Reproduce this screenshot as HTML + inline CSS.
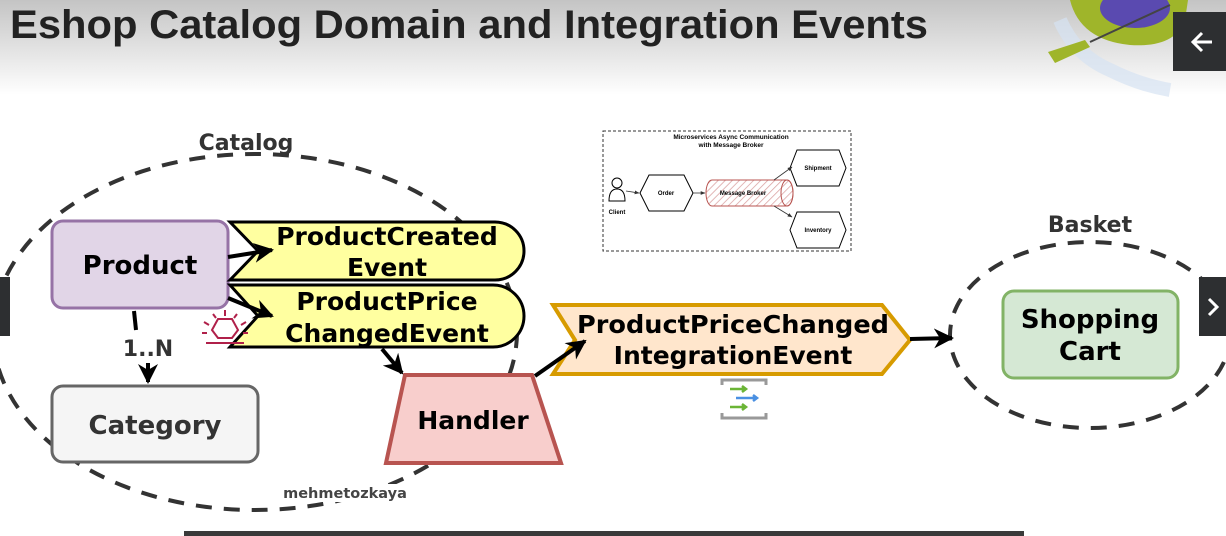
<!DOCTYPE html>
<html><head><meta charset="utf-8"><style>
html,body{margin:0;padding:0;width:1226px;height:536px;overflow:hidden;background:#fff}
svg{display:block}
.t{font-family:"DejaVu Sans","Liberation Sans",sans-serif;font-weight:bold}
</style></head><body>
<svg width="1226" height="536" viewBox="0 0 1226 536" xmlns="http://www.w3.org/2000/svg">
<defs>
<linearGradient id="hg" x1="0" y1="0" x2="0" y2="1">
<stop offset="0" stop-color="#c4c4c4"/><stop offset="1" stop-color="#ffffff"/>
</linearGradient>
<marker id="ah" viewBox="0 0 10 10" refX="9" refY="5" markerWidth="5" markerHeight="5" orient="auto">
<path d="M0,0 L10,5 L0,10 L3,5 Z" fill="#000"/></marker>
<marker id="sa" viewBox="0 0 10 10" refX="9" refY="5" markerWidth="6" markerHeight="6" orient="auto">
<path d="M0,1 L10,5 L0,9 Z" fill="#333"/></marker>
<pattern id="hatch" width="5" height="5" patternUnits="userSpaceOnUse" patternTransform="rotate(45)">
<line x1="0" y1="0" x2="0" y2="5" stroke="#d9a0a0" stroke-width="1.5"/></pattern>
</defs>
<rect x="0" y="0" width="1226" height="95" fill="url(#hg)"/>
<text x="10" y="38" font-family="Liberation Sans,Arial,sans-serif" font-weight="bold" font-size="40" fill="#222" textLength="918" lengthAdjust="spacingAndGlyphs">Eshop Catalog Domain and Integration Events</text>
<!-- kayak deco -->
<path d="M1060,20 Q1075,55 1110,70 Q1140,85 1170,90" stroke="#d6e3f2" stroke-width="14" fill="none" opacity="0.7"/>
<path d="M1070,0 Q1080,40 1130,45 Q1175,48 1185,20 L1188,0 Z" fill="#9fb52a"/>
<ellipse cx="1135" cy="8" rx="35" ry="20" fill="#5a4ab0"/>
<line x1="1090" y1="42" x2="1170" y2="5" stroke="#444" stroke-width="2"/>
<path d="M1048,52 L1085,40 L1090,47 L1055,63 Z" fill="#9fb52a"/>
<rect x="1173" y="12" width="53" height="59" fill="#2d2f31"/>
<path d="M1212,42 H1194 M1202,33 L1193,42 L1202,51" stroke="#fff" stroke-width="3" fill="none"/>
<!-- ellipses -->
<ellipse cx="255" cy="332" rx="262" ry="178" fill="none" stroke="#333" stroke-width="4" stroke-dasharray="16,12"/>
<text x="246" y="150" class="t" font-size="22" fill="#333" text-anchor="middle">Catalog</text>
<ellipse cx="1090" cy="335" rx="140" ry="93" fill="none" stroke="#333" stroke-width="4" stroke-dasharray="16,12"/>
<text x="1090" y="232" class="t" font-size="22" fill="#333" text-anchor="middle">Basket</text>
<!-- product -->
<rect x="52" y="221" width="176" height="87" rx="11" fill="#e1d5e7" stroke="#9673a6" stroke-width="3"/>
<text x="140" y="274" class="t" font-size="26" text-anchor="middle">Product</text>
<rect x="52" y="386" width="206" height="76" rx="11" fill="#f5f5f5" stroke="#666" stroke-width="3"/>
<text x="155" y="434" class="t" font-size="26" fill="#333" text-anchor="middle">Category</text>
<!-- events -->
<path d="M230,222 H495 A29,29 0 0 1 495,280 H230 L258,251 Z" fill="#ffffa0" stroke="#000" stroke-width="3"/>
<text x="387" y="245" class="t" font-size="25" text-anchor="middle">ProductCreated</text>
<text x="387" y="276" class="t" font-size="25" text-anchor="middle">Event</text>
<path d="M230,285 H493 A31,31 0 0 1 493,347 H230 L258,316 Z" fill="#ffffa0" stroke="#000" stroke-width="3"/>
<text x="387" y="310" class="t" font-size="25" text-anchor="middle">ProductPrice</text>
<text x="387" y="342" class="t" font-size="25" text-anchor="middle">ChangedEvent</text>
<!-- handler -->
<path d="M405,375 H532 L561,463 H386 Z" fill="#f8cecc" stroke="#b85450" stroke-width="4"/>
<text x="473" y="429" class="t" font-size="25" text-anchor="middle">Handler</text>
<!-- integration event -->
<path d="M553,305 H882 L910,340 L882,374 H553 L575,340 Z" fill="#ffe6cc" stroke="#d79b00" stroke-width="4"/>
<text x="733" y="333" class="t" font-size="25" text-anchor="middle" textLength="312" lengthAdjust="spacingAndGlyphs">ProductPriceChanged</text>
<text x="733" y="364" class="t" font-size="25" text-anchor="middle">IntegrationEvent</text>
<!-- shopping cart -->
<rect x="1003" y="291" width="175" height="87" rx="11" fill="#d5e8d4" stroke="#82b366" stroke-width="3"/>
<text x="1090" y="328" class="t" font-size="26" text-anchor="middle">Shopping</text>
<text x="1090" y="360" class="t" font-size="26" text-anchor="middle">Cart</text>
<!-- arrows -->
<g stroke="#000" stroke-width="4" fill="none">
<line x1="228" y1="257" x2="272" y2="250" marker-end="url(#ah)"/>
<line x1="228" y1="298" x2="272" y2="316" marker-end="url(#ah)"/>
<line x1="134" y1="311" x2="136" y2="330"/>
<line x1="148" y1="363" x2="148" y2="382" marker-end="url(#ah)"/>
<line x1="382" y1="349" x2="402" y2="373" marker-end="url(#ah)"/>
<line x1="535" y1="376" x2="585" y2="341" marker-end="url(#ah)"/>
<line x1="910" y1="339" x2="952" y2="338" marker-end="url(#ah)"/>
</g>
<text x="148" y="356" class="t" font-size="22" fill="#333" text-anchor="middle">1..N</text>
<!-- alert icon -->
<g stroke="#b0204a" stroke-width="2" fill="none">
<path d="M212,330 L218,319 H232 L238,330 L232,338 H218 Z"/>
<line x1="206" y1="343" x2="244" y2="343"/>
<line x1="225" y1="310" x2="225" y2="316"/><line x1="213" y1="314" x2="216" y2="318"/><line x1="237" y1="314" x2="234" y2="318"/>
<line x1="204" y1="322" x2="209" y2="325"/><line x1="246" y1="322" x2="241" y2="325"/>
<line x1="202" y1="333" x2="207" y2="333"/><line x1="243" y1="333" x2="248" y2="333"/>
</g>
<!-- integration icon -->
<path d="M722,385 V380 H766 V385 M722,413 V418 H766 V413" stroke="#999" stroke-width="3" fill="none"/>
<g stroke-width="2.5" fill="none">
<path d="M730,389 H746 M742,386 L746,389 L742,392" stroke="#6bb536"/>
<path d="M736,398 H757 M753,395 L757,398 L753,401" stroke="#4a90e2"/>
<path d="M730,407 H746 M742,404 L746,407 L742,410" stroke="#6bb536"/>
</g>
<!-- inset -->
<rect x="603" y="131" width="248" height="120" fill="#fff" stroke="#333" stroke-width="1" stroke-dasharray="3,2"/>
<text x="731" y="139" font-family="Liberation Sans,sans-serif" font-weight="bold" font-size="6.5" text-anchor="middle">Microservices Async Communication</text>
<text x="731" y="147" font-family="Liberation Sans,sans-serif" font-weight="bold" font-size="6.5" text-anchor="middle">with Message Broker</text>
<circle cx="617" cy="183" r="5" fill="#fff" stroke="#000"/>
<path d="M609,201 Q609,189 617,189 Q625,189 625,201 Z" fill="#fff" stroke="#000"/>
<text x="617" y="214" font-family="Liberation Sans,sans-serif" font-weight="bold" font-size="6" text-anchor="middle">Client</text>
<path d="M640,193 L649,175 H684 L693,193 L684,211 H649 Z" fill="#fff" stroke="#000"/>
<text x="666" y="195" font-family="Liberation Sans,sans-serif" font-weight="bold" font-size="6" text-anchor="middle">Order</text>
<path d="M712,180 H787 A6,13 0 0 1 787,206 H712 A6,13 0 0 1 712,180 Z" fill="url(#hatch)" stroke="#b85450"/>
<ellipse cx="787" cy="193" rx="6" ry="13" fill="none" stroke="#b85450"/>
<text x="743" y="195" font-family="Liberation Sans,sans-serif" font-weight="bold" font-size="6" text-anchor="middle">Message Broker</text>
<path d="M790,168 L797,150 H839 L846,168 L839,186 H797 Z" fill="#fff" stroke="#000"/>
<text x="818" y="170" font-family="Liberation Sans,sans-serif" font-weight="bold" font-size="6" text-anchor="middle">Shipment</text>
<path d="M790,230 L797,212 H839 L846,230 L839,248 H797 Z" fill="#fff" stroke="#000"/>
<text x="818" y="232" font-family="Liberation Sans,sans-serif" font-weight="bold" font-size="6" text-anchor="middle">Inventory</text>
<g stroke="#333" stroke-width="0.8">
<line x1="626" y1="191" x2="639" y2="193" marker-end="url(#sa)"/>
<line x1="693" y1="193" x2="705" y2="193" marker-end="url(#sa)"/>
<line x1="774" y1="180" x2="792" y2="167" marker-end="url(#sa)"/>
<line x1="774" y1="206" x2="792" y2="217" marker-end="url(#sa)"/>
</g>
<rect x="280" y="484" width="130" height="18" fill="#fff"/>
<text x="345" y="498" class="t" font-size="14.5" fill="#444" text-anchor="middle">mehmetozkaya</text>
<!-- nav -->
<rect x="0" y="277" width="10" height="59" fill="#2d2f31"/>
<rect x="1199" y="277" width="27" height="59" fill="#2d2f31"/>
<path d="M1209,299 L1217,307 L1209,315" stroke="#fff" stroke-width="3" fill="none"/>
<rect x="184" y="531" width="840" height="5" fill="#3a3a3a"/>
</svg>
</body></html>
